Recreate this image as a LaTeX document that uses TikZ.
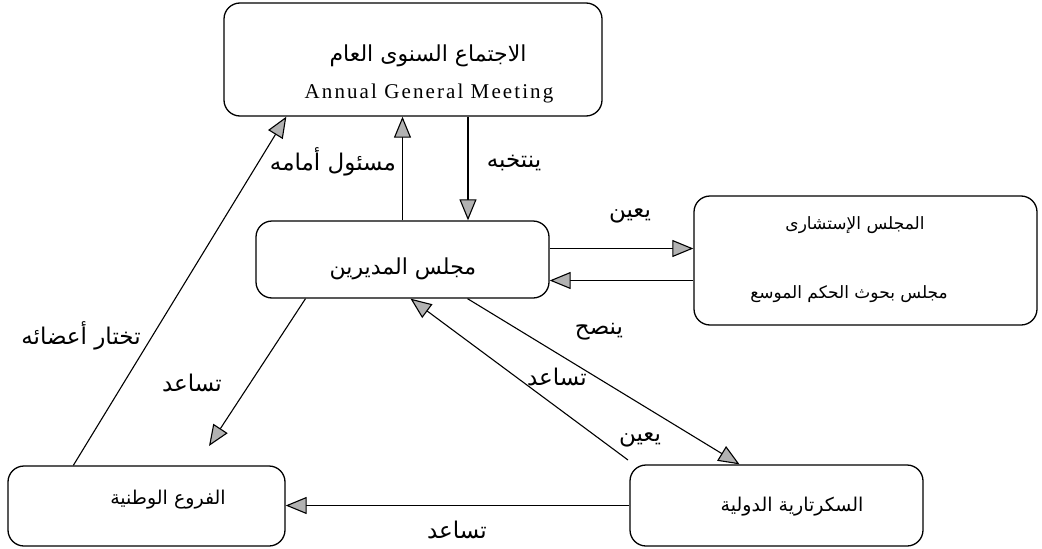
\documentclass[tikz,border=0pt]{standalone}
\usepackage{fontspec}
\setmainfont{Liberation Serif}
\newfontfamily\arfont[Script=Arabic]{DejaVu Sans}
\newfontfamily\enfont[LetterSpace=10]{Liberation Serif}
\TeXXeTstate=1
\usetikzlibrary{arrows.meta,calc}
\newcommand\artxt[1]{{\arfont\beginR #1\endR}}
\newcommand\fsz[1]{\fontsize{#1}{#1}\selectfont}
\tikzset{
  box/.style={draw, line width=1.3pt, rounded corners=16pt, inner sep=0pt},
  arr/.style={line width=1.1pt, -{Triangle[length=21pt,width=17pt,fill=gray!60]}},
  boxtxt/.style={inner sep=0pt, font=\fsz{22}},
  lab/.style={inner sep=0pt, font=\fsz{23}},
}
\begin{document}
\begin{tikzpicture}[x=1pt,y=-1pt]
\useasboundingbox (0,0) rectangle (1042,549);
% boxes
\node[box, minimum width=378pt, minimum height=113pt] (agm) at (413,59.5) {};
\node[box, minimum width=293pt, minimum height=77pt] (dir) at (402.5,259.5) {};
\node[box, minimum width=343pt, minimum height=129pt] (adv) at (865.5,260.5) {};
\node[box, minimum width=277pt, minimum height=80pt] (nat) at (146.5,506) {};
\node[box, minimum width=293pt, minimum height=81pt] (sec) at (776.5,505.5) {};
% box texts
\node[boxtxt] (agmA) at (428,56) {\artxt{الاجتماع السنوى العام}};
\node[inner sep=0pt, font=\enfont\fsz{21}] (agmE) at (429,93) {Annual General Meeting};
\node[boxtxt] (dirT) at (403,269) {\artxt{مجلس المديرين}};
\node[boxtxt, font=\fsz{17}] (advA) at (855,225) {\artxt{المجلس الإستشارى}};
\node[boxtxt, font=\fsz{17}] (advB) at (849,294) {\artxt{مجلس بحوث الحكم الموسع}};
\node[boxtxt, font=\fsz{19}] (natT) at (168,500) {\artxt{الفروع الوطنية}};
\node[boxtxt, font=\fsz{19}] (secT) at (792,507) {\artxt{السكرتارية الدولية}};
% connectors
\draw[arr] (dir.north) -- (dir.north |- agm.south);
\coordinate (g2) at ([xshift=55pt]agm.south);
\draw[arr] (g2) -- (g2 |- dir.north);
\draw[arr] ([xshift=66pt]nat.north west) -- ([xshift=63pt]agm.south west);
\coordinate (d1) at ([yshift=11pt]dir.east);
\draw[arr] (d1) -- (d1 -| adv.west);
\coordinate (d2) at ([yshift=-21pt]dir.east);
\draw[arr] (d2 -| adv.west) -- (d2);
\coordinate (e6) at (209,446);
\draw[arr] ([xshift=-97pt]dir.south) -- (e6);
\coordinate (s7) at (628,460);
\draw[arr] (s7) -- ([xshift=8pt]dir.south);
\draw[arr] ([xshift=65pt]dir.south) -- ([xshift=-37pt]sec.north);
\draw[arr] (sec.west) -- (sec.west -| nat.east);
% labels
\node[lab] (l1) at (333,162) {\artxt{مسئول أمامه}};
\node[lab] (l2) at (514,163) {\artxt{ينتخبه}};
\node[lab] (l3) at (630,216) {\artxt{يعين}};
\node[lab] (l4) at (599,332) {\artxt{ينصح}};
\node[lab] (l5) at (557,377) {\artxt{تساعد}};
\node[lab] (l6) at (640,440) {\artxt{يعين}};
\node[lab] (l7) at (81,336) {\artxt{تختار أعضائه}};
\node[lab] (l8) at (192,383) {\artxt{تساعد}};
\node[lab] (l9) at (457,530) {\artxt{تساعد}};
\end{tikzpicture}
\end{document}
